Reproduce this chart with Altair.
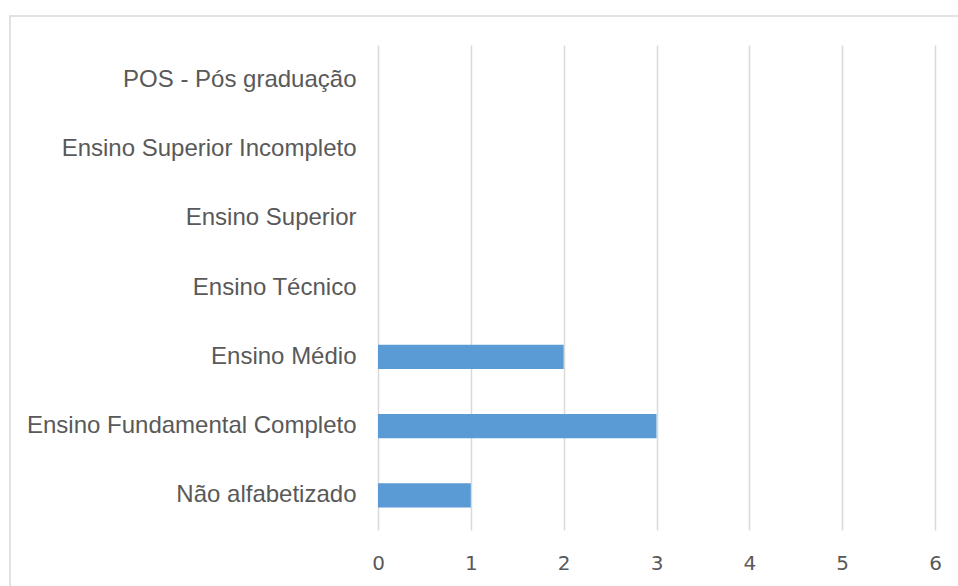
import altair as alt
import pandas as pd

categories = [
    "POS - Pós graduação",
    "Ensino Superior Incompleto",
    "Ensino Superior",
    "Ensino Técnico",
    "Ensino Médio",
    "Ensino Fundamental Completo",
    "Não alfabetizado",
]
values = [0, 0, 0, 0, 2, 3, 1]
x_ticks = [0, 1, 2, 3, 4, 5, 6]

df = pd.DataFrame({"cat": categories, "val": values})

W, H = 557, 485
LEFT, TOP = 378, 45

border = alt.Chart(pd.DataFrame({"a": [0]})).mark_rect(
    fill=None, stroke="#d9d9d9", strokeWidth=1.5
).encode(
    x=alt.value(10 - LEFT), x2=alt.value(962 - LEFT),
    y=alt.value(16 - TOP), y2=alt.value(600 - TOP),
)

bars = alt.Chart(df).mark_bar(color="#5b9bd5").encode(
    x=alt.X("val:Q", scale=alt.Scale(domain=[0, 6], nice=False),
            axis=alt.Axis(values=x_ticks, title=None, grid=True, gridColor="#d9d9d9",
                          gridWidth=1.5, domain=False, ticks=False, labelPadding=23,
                          labelFlush=False,
                          labelFont="DejaVu Sans", labelFontSize=20, labelColor="#595959")),
    y=alt.Y("cat:N", sort=categories,
            scale=alt.Scale(paddingInner=0.65, paddingOuter=0.325),
            axis=alt.Axis(title=None, domain=False, ticks=False, grid=False, labelPadding=22,
                          labelFont="Liberation Sans", labelFontSize=24, labelColor="#595959",
                          labelLimit=0)),
)

chart = alt.layer(border, bars).properties(
    width=W, height=H,
    autosize=alt.AutoSizeParams(type="none"),
    padding={"left": LEFT, "top": TOP, "right": 958 - LEFT - W, "bottom": 586 - TOP - H},
).configure(background="white", view=alt.ViewConfig(stroke=None))

chart.save("out.html", embed_options={"renderer": "svg", "actions": False})
